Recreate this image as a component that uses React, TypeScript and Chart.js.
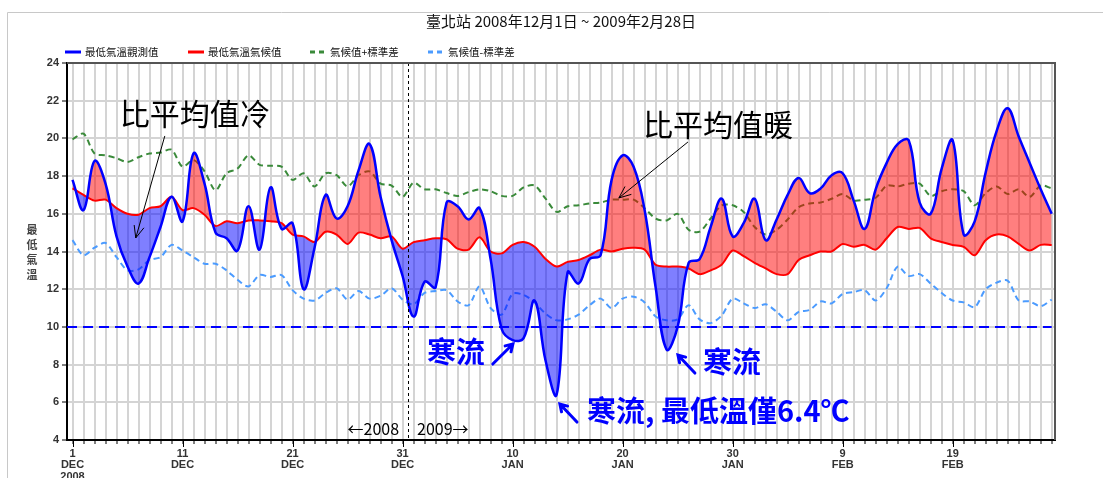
import React, { useEffect, useRef } from 'react';
import { Chart, registerables } from 'chart.js';

Chart.register(...registerables);

// ---- data (daily minimum temperature, Taipei, 2008-12-01 .. 2009-02-28) ----
const observed = [
  17.8, 16.2, 18.8, 17.6, 14.8, 13.2, 12.3, 13.7, 15.3, 16.9,
  15.6, 19.2, 17.6, 15.0, 14.7, 14.05, 16.4, 14.1, 17.4, 15.2,
  15.5, 12.0, 14.2, 17.0, 15.75, 16.4, 18.3, 19.7, 16.9, 14.6,
  12.7, 10.55, 12.4, 12.1, 16.6, 16.4, 15.7, 16.3, 13.6, 9.9,
  9.3, 9.4, 11.4, 8.2, 6.4, 12.9, 12.3, 13.6, 13.8, 17.8,
  19.1, 18.5, 16.2, 12.1, 8.8, 10.0, 13.4, 13.6, 15.3, 16.8,
  14.8, 15.5, 16.8, 14.6, 15.7, 17.0, 17.9, 17.1, 17.35, 18.05,
  18.15, 16.7, 15.2, 17.3, 18.7, 19.7, 19.9, 16.6, 16.0, 18.4,
  19.9, 14.9, 15.6, 18.2, 20.4, 21.6, 20.1, 18.7, 17.3, 16.0,
];
const climate = [
  17.35, 17.0, 16.7, 16.75, 16.3, 16.0, 15.95, 16.3, 16.4, 16.9,
  16.2, 16.3, 15.95, 15.35, 15.6, 15.5, 15.65, 15.65, 15.6, 15.5,
  14.9, 14.8, 14.5, 15.05, 14.9, 14.4, 15.0, 14.9, 14.7, 14.8,
  14.15, 14.5, 14.6, 14.7, 14.65, 14.15, 14.1, 14.75, 14.0, 13.9,
  14.35, 14.5, 14.25, 13.6, 13.2, 13.45, 13.55, 13.8, 14.1, 14.0,
  14.15, 14.2, 14.1, 13.3, 13.2, 13.2, 13.1, 12.8, 13.0, 13.3,
  14.05, 13.75, 13.4, 13.1, 12.8, 12.8, 13.55, 13.8, 14.0, 14.0,
  14.4, 14.25, 14.35, 14.1, 14.7, 15.3, 15.2, 15.25, 14.7, 14.5,
  14.35, 14.25, 13.8, 14.6, 14.9, 14.8, 14.4, 14.05, 14.35, 14.35,
];
const climPlus = [
  19.95, 20.25, 19.2, 19.1, 18.95, 18.75, 19.0, 19.2, 19.25, 19.4,
  18.5, 18.85, 18.25, 17.25, 18.15, 18.4, 19.1, 18.6, 18.55, 18.5,
  17.8, 18.15, 17.45, 18.15, 18.05, 17.45, 18.05, 18.25, 17.6, 17.5,
  16.9, 17.65, 17.3, 17.3, 17.1, 16.95, 17.15, 17.3, 17.2, 16.95,
  16.95, 17.4, 17.5, 16.8, 16.1, 16.4, 16.45, 16.55, 16.6, 16.75,
  16.75, 16.75, 16.3, 15.75, 15.65, 16.0, 15.15, 15.05, 15.75, 16.45,
  16.45, 16.1, 15.3, 14.9, 15.15, 15.7, 16.35, 16.55, 16.6, 16.8,
  17.05, 16.7, 16.75, 16.85, 17.5, 17.45, 17.6, 17.6, 16.95, 17.2,
  17.3, 17.2, 16.45, 17.1, 17.45, 17.05, 17.3, 16.9, 17.5, 17.35,
];
const climMinus = [
  14.6, 13.8, 14.2, 14.45, 13.7, 13.0, 13.05, 13.55, 13.7, 14.35,
  14.05, 13.7, 13.35, 13.35, 13.0, 12.5, 12.15, 12.75, 12.65, 12.75,
  11.95, 11.5, 11.4, 11.8, 12.05, 11.45, 11.9, 11.5, 11.65, 12.05,
  11.45, 11.2, 11.8, 11.9, 11.95, 11.35, 11.15, 12.15, 11.0, 10.65,
  11.75, 11.7, 11.3, 10.7, 10.35, 10.4, 10.65, 11.15, 11.5, 11.0,
  11.5, 11.6, 11.3, 10.55, 10.35, 10.4, 11.15, 10.4, 10.2, 10.6,
  11.5, 11.25, 11.0, 11.2, 10.8, 10.35, 10.8, 10.9, 11.35, 11.25,
  11.75, 11.85, 11.95, 11.4, 12.05, 13.2, 12.7, 12.8, 12.3, 11.8,
  11.4, 11.3, 11.05, 12.0, 12.35, 12.45, 11.4, 11.35, 11.1, 11.45,
];

const tickDays = ['1', '11', '21', '31', '10', '20', '30', '9', '19'];
const tickMonths = ['DEC', 'DEC', 'DEC', 'DEC', 'JAN', 'JAN', 'JAN', 'FEB', 'FEB'];
const firstYear = '2008';
const yTicks = [4, 6, 8, 10, 12, 14, 16, 18, 20, 22, 24];

const titleText = '臺北站 2008年12月1日 ~ 2009年2月28日';
const legendLabels = ['最低氣溫觀測值', '最低氣溫氣候值', '氣候值+標準差', '氣候值-標準差'];
const yTitle = ['最', '低', '氣', '溫'];
const coldLine = 10;
const yearSplit = 30.5;

const CJK = '"Noto Sans CJK TC", "Noto Sans CJK SC", sans-serif';
const BLUE = '#0000ff';
const RED = '#ff0000';
const GREEN = '#3a8a3a';
const LBLUE = '#4b9bff';

type Arrow = { x1: number; y1: number; x2: number; y2: number };

function drawArrow(ctx: CanvasRenderingContext2D, x1: number, y1: number, x2: number, y2: number, head: number, spread: number) {
  ctx.beginPath();
  ctx.moveTo(x1, y1);
  ctx.lineTo(x2, y2);
  const a = Math.atan2(y2 - y1, x2 - x1);
  ctx.moveTo(x2 - head * Math.cos(a - spread), y2 - head * Math.sin(a - spread));
  ctx.lineTo(x2, y2);
  ctx.lineTo(x2 - head * Math.cos(a + spread), y2 - head * Math.sin(a + spread));
  ctx.stroke();
}

const overlay = {
  id: 'overlay',
  beforeDraw(chart: any) {
    const { ctx, width, height } = chart;
    ctx.save();
    ctx.fillStyle = '#ffffff';
    ctx.fillRect(0, 0, width, height);
    ctx.strokeStyle = '#c8c8c8';
    ctx.lineWidth = 1;
    ctx.beginPath();
    ctx.moveTo(7.5, height);
    ctx.lineTo(7.5, 12.5);
    ctx.lineTo(width, 12.5);
    ctx.stroke();
    ctx.restore();
  },
  beforeDatasetsDraw(chart: any) {
    const { ctx, scales } = chart;
    const y = scales.y.getPixelForValue(coldLine);
    ctx.save();
    ctx.strokeStyle = BLUE;
    ctx.lineWidth = 2;
    ctx.setLineDash([10, 6]);
    ctx.beginPath();
    ctx.moveTo(chart.chartArea.left, y);
    ctx.lineTo(scales.x.getPixelForValue(observed.length - 1), y);
    ctx.stroke();
    ctx.restore();
  },
  afterDatasetsDraw(chart: any) {
    const { ctx, scales, chartArea } = chart;
    ctx.save();
    const xs = Math.round(scales.x.getPixelForValue(yearSplit)) + 0.5;
    ctx.strokeStyle = '#000';
    ctx.lineWidth = 1;
    ctx.setLineDash([3, 3]);
    ctx.beginPath();
    ctx.moveTo(xs, chartArea.top);
    ctx.lineTo(xs, chartArea.bottom);
    ctx.stroke();
    ctx.setLineDash([]);
    ctx.strokeStyle = '#555';
    ctx.lineWidth = 2;
    ctx.beginPath();
    ctx.moveTo(chartArea.left, chartArea.top);
    ctx.lineTo(chartArea.right, chartArea.top);
    ctx.lineTo(chartArea.right, chartArea.bottom);
    ctx.stroke();
    // longer ticks under labelled days
    ctx.strokeStyle = '#000';
    ctx.lineWidth = 1;
    ctx.beginPath();
    tickDays.forEach((_, n) => {
      const x = Math.round(scales.x.getPixelForValue(n * 10)) + 0.5;
      ctx.moveTo(x, chartArea.bottom);
      ctx.lineTo(x, chartArea.bottom + 7);
    });
    ctx.stroke();
    ctx.restore();
  },
  afterDraw(chart: any) {
    const { ctx, scales } = chart;
    const X = (v: number) => scales.x.getPixelForValue(v);
    const Y = (v: number) => scales.y.getPixelForValue(v);
    ctx.save();
    // title
    ctx.fillStyle = '#111';
    ctx.font = `15px ${CJK}`;
    ctx.textAlign = 'center';
    ctx.textBaseline = 'middle';
    ctx.fillText(titleText, 561, 21);

    // legend
    const items = [
      { x: 65, color: BLUE, dash: [] as number[], text: legendLabels[0] },
      { x: 188, color: RED, dash: [] as number[], text: legendLabels[1] },
      { x: 310, color: GREEN, dash: [5, 4], text: legendLabels[2] },
      { x: 428, color: LBLUE, dash: [5, 4], text: legendLabels[3] },
    ];
    ctx.textAlign = 'left';
    ctx.font = `10.5px ${CJK}`;
    items.forEach((it) => {
      ctx.strokeStyle = it.color;
      ctx.lineWidth = 3;
      ctx.setLineDash(it.dash);
      ctx.beginPath();
      ctx.moveTo(it.x, 52);
      ctx.lineTo(it.x + 16, 52);
      ctx.stroke();
      ctx.setLineDash([]);
      ctx.fillStyle = '#111';
      ctx.fillText(it.text, it.x + 20, 52);
    });

    // y title (stacked, upright characters)
    ctx.fillStyle = '#444';
    ctx.font = `bold 11px ${CJK}`;
    ctx.textAlign = 'center';
    const mid = (chart.chartArea.top + chart.chartArea.bottom) / 2;
    yTitle.forEach((c, i) => {
      ctx.fillText(c, 32, mid - 22 + i * 15);
    });

    // annotations (anchored in data units)
    ctx.textAlign = 'left';
    ctx.fillStyle = '#000';
    ctx.font = `30px ${CJK}`;
    ctx.fillText('比平均值冷', X(4.3), Y(21.29));
    ctx.fillText('比平均值暖', X(51.85), Y(20.71));
    ctx.strokeStyle = '#000';
    ctx.lineWidth = 1;
    const blackArrows: Arrow[] = [
      { x1: 8.39, y1: 20.13, x2: 5.75, y2: 14.72 },
      { x1: 55.94, y1: 19.81, x2: 49.66, y2: 16.84 },
    ];
    blackArrows.forEach((a) => drawArrow(ctx, X(a.x1), Y(a.y1), X(a.x2), Y(a.y2), 13, 0.4));

    ctx.fillStyle = BLUE;
    ctx.font = `bold 29px ${CJK}`;
    ctx.fillText('寒流', X(32.21), Y(8.69));
    ctx.fillText('寒流', X(57.3), Y(8.14));
    ctx.fillText('寒流, 最低溫僅6.4℃', X(46.76), Y(5.54));
    ctx.strokeStyle = BLUE;
    ctx.lineWidth = 3;
    ctx.lineCap = 'round';
    const blueArrows: Arrow[] = [
      { x1: 38.2, y1: 8.03, x2: 40.03, y2: 9.09 },
      { x1: 56.57, y1: 7.55, x2: 55.03, y2: 8.51 },
      { x1: 45.85, y1: 4.95, x2: 44.3, y2: 5.91 },
    ];
    blueArrows.forEach((a) => drawArrow(ctx, X(a.x1), Y(a.y1), X(a.x2), Y(a.y2), 8, 0.55));

    // year split labels
    ctx.fillStyle = '#000';
    ctx.font = `16px ${CJK}`;
    const xs = X(yearSplit);
    ctx.textAlign = 'right';
    ctx.fillText('←2008', xs - 9, Y(4.61));
    ctx.textAlign = 'left';
    ctx.fillText('2009→', xs + 9, Y(4.61));
    ctx.restore();
  },
};

export default function App() {
  const ref = useRef<HTMLCanvasElement>(null);
  useEffect(() => {
    if (!ref.current) return;
    const days = observed.map((_, i) => i);
    const pts = (arr: number[]) => arr.map((v, i) => ({ x: days[i], y: v }));
    const labelFor = (v: number) => {
      const k = days.indexOf(v);
      if (k < 0 || k % 10 !== 0) return '';
      const n = k / 10;
      if (n >= tickDays.length) return '';
      return n === 0 ? [tickDays[n], tickMonths[n], firstYear] : [tickDays[n], tickMonths[n]];
    };
    const tickFont = { family: '"Liberation Sans", Arial, sans-serif', size: 11, weight: 'bold' as const, lineHeight: 1.05 };
    const chart = new Chart(ref.current, {
      type: 'line',
      data: {
        datasets: [
          { label: legendLabels[0], data: pts(observed), borderColor: BLUE, borderWidth: 2.5, tension: 0.4, pointRadius: 0, fill: false },
          { label: legendLabels[1], data: pts(climate), borderColor: RED, borderWidth: 2, tension: 0.3, pointRadius: 0, fill: false },
          {
            label: 'anomaly', data: pts(observed), borderColor: 'rgba(0,0,0,0)', borderWidth: 0, tension: 0.4, pointRadius: 0,
            fill: { target: 1, above: 'rgba(255,0,0,0.5)', below: 'rgba(0,0,255,0.5)' },
          },
          { label: legendLabels[2], data: pts(climPlus), borderColor: GREEN, borderWidth: 2, borderDash: [6, 4], tension: 0.3, pointRadius: 0, fill: false },
          { label: legendLabels[3], data: pts(climMinus), borderColor: LBLUE, borderWidth: 2, borderDash: [6, 4], tension: 0.3, pointRadius: 0, fill: false },
        ],
      } as any,
      options: {
        responsive: false,
        animation: false,
        events: [],
        layout: { padding: { left: 0, right: 48, top: 63, bottom: 0 } },
        plugins: { legend: { display: false }, title: { display: false }, tooltip: { enabled: false } },
        scales: {
          x: {
            type: 'linear',
            min: -0.5,
            max: 89.3,
            afterBuildTicks: (s: any) => { s.ticks = days.map((v) => ({ value: v })); },
            afterFit: (s: any) => { s.height = 38; },
            grid: { color: '#d4d4d4', lineWidth: 2, tickLength: 4, tickColor: '#000', tickWidth: 1 },
            border: { color: '#000', width: 2 },
            ticks: { autoSkip: false, maxRotation: 0, minRotation: 0, padding: 4, color: '#333', font: tickFont, callback: (v: any) => labelFor(Number(v)) },
          },
          y: {
            min: yTicks[0],
            max: yTicks[yTicks.length - 1],
            afterBuildTicks: (s: any) => { s.ticks = yTicks.map((v) => ({ value: v })); },
            afterFit: (s: any) => { s.width = 67; },
            grid: { color: '#d4d4d4', lineWidth: 2, tickLength: 5, tickColor: '#000', tickWidth: 1 },
            border: { color: '#000', width: 2 },
            ticks: { padding: 3, color: '#333', font: tickFont },
          },
        },
      } as any,
      plugins: [overlay],
    });
    return () => chart.destroy();
  }, []);
  return (
    <div style={{ position: 'absolute', left: 0, top: 0, width: 1103, height: 478 }}>
      <canvas ref={ref} width={1103} height={478} />
    </div>
  );
}
